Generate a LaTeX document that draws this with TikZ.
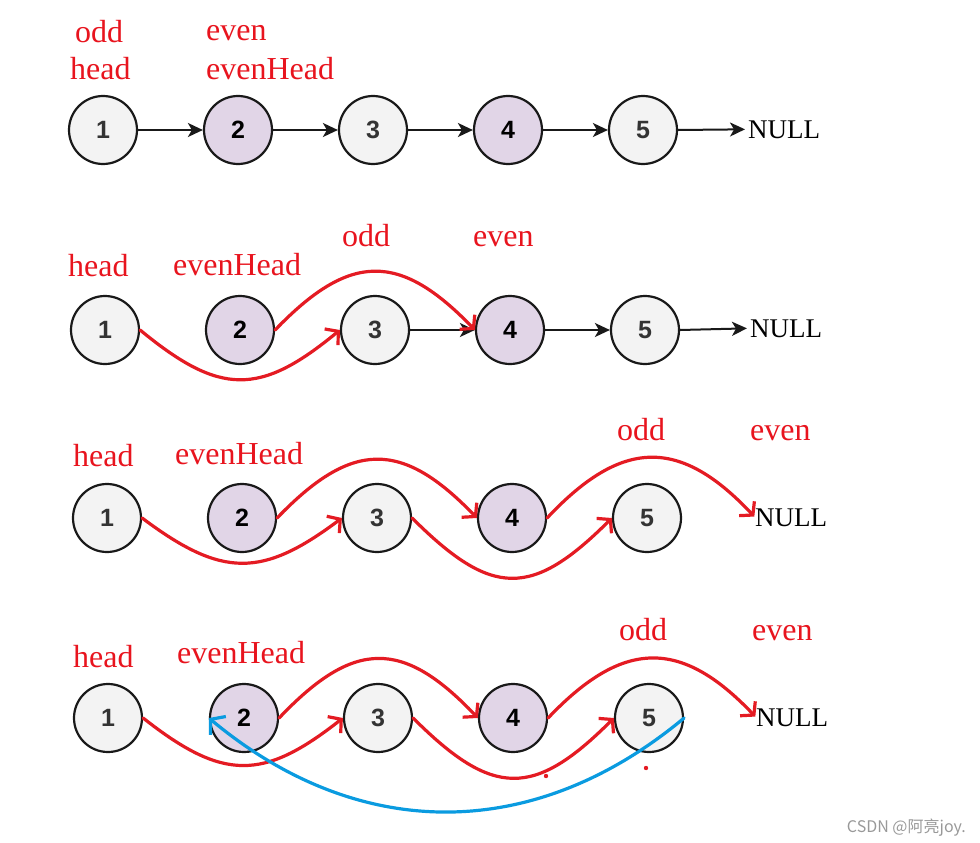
\documentclass[tikz,border=0pt]{standalone}
\usepackage{fontspec}
\setmainfont{Liberation Serif}
\newfontfamily\numfont{Liberation Sans}
\newfontfamily\cjk{Noto Sans CJK SC}
\usetikzlibrary{arrows.meta}
\definecolor{nodegray}{HTML}{F3F3F3}
\definecolor{nodepurple}{HTML}{E1D5E7}
\definecolor{lblred}{HTML}{E8141E}
\definecolor{curvered}{HTML}{E41B23}
\definecolor{curveblue}{HTML}{0A9BE0}
\begin{document}
\begin{tikzpicture}[x=1pt,y=-1pt,
 listnode/.style={circle,draw=black!90,line width=2.2pt,minimum size=68pt,inner sep=0pt,font=\numfont\bfseries\fontsize{25}{25}\selectfont},
 oddnode/.style={listnode,fill=nodegray,text=black!80},
 evennode/.style={listnode,fill=nodepurple,text=black},
 lbl/.style={anchor=base west,text=lblred,font=\fontsize{32}{32}\selectfont,inner sep=0pt},
 nulltxt/.style={anchor=base west,font=\fontsize{27}{27}\selectfont,inner sep=0pt},
 link/.style={draw=black!90,line width=2pt,-{Stealth[length=15pt,width=14pt,inset=4pt]}},
 redlink/.style={draw=curvered,line width=3.2pt,line cap=round,-{Straight Barb[length=9pt,width=21pt,line width=3.2pt]}},
 bluelink/.style={draw=curveblue,line width=3.2pt,line cap=round,-{Straight Barb[length=10pt,width=24pt,line width=3.2pt]}}
]
\useasboundingbox (0,0) rectangle (980,843);

% ---------- row 1 ----------
\node[oddnode]  (n11) at (103,130) {1};
\node[evennode] (n12) at (238,130) {2};
\node[oddnode]  (n13) at (373,130) {3};
\node[evennode] (n14) at (508,130) {4};
\node[oddnode]  (n15) at (643,130) {5};
\node[nulltxt]  (null1) at (748,138) {NULL};
\node[lbl] (o1) at (75,43) {odd};
\node[lbl] (h1) at (70,80) {head};
\node[lbl] (e1) at (206,41) {even};
\node[lbl] (eh1) at (206,80) {evenHead};
\draw[link] (n11) -- (n12);
\draw[link] (n12) -- (n13);
\draw[link] (n13) -- (n14);
\draw[link] (n14) -- (n15);
\draw[link,shorten >=3pt] (n15.east) -- (null1.west);

% ---------- row 2 ----------
\node[oddnode]  (n21) at (105,330) {1};
\node[evennode] (n22) at (240,330) {2};
\node[oddnode]  (n23) at (375,330) {3};
\node[evennode] (n24) at (510,330) {4};
\node[oddnode]  (n25) at (645,330) {5};
\node[nulltxt]  (null2) at (750,337) {NULL};
\node[lbl] (h2) at (68,276) {head};
\node[lbl] (eh2) at (173,275) {evenHead};
\node[lbl] (o2) at (342,246) {odd};
\node[lbl] (e2) at (473,246) {even};
\draw[link] (n23) -- (n24);
\draw[link] (n24) -- (n25);
\draw[link,shorten >=3pt] (n25.east) -- (null2.west);
\draw[redlink] (n21.east) .. controls +(80,66) and +(-80,66) .. (n23.west);
\draw[redlink] (n22.east) .. controls +(75,-78) and +(-75,-78) .. (n24.west);

% ---------- row 3 ----------
\node[oddnode]  (n31) at (107,518) {1};
\node[evennode] (n32) at (242,518) {2};
\node[oddnode]  (n33) at (377,518) {3};
\node[evennode] (n34) at (512,518) {4};
\node[oddnode]  (n35) at (647,518) {5};
\node[nulltxt]  (null3) at (755,526) {NULL};
\node[lbl] (h3) at (73,466) {head};
\node[lbl] (eh3) at (175,464) {evenHead};
\node[lbl] (o3) at (617,440) {odd};
\node[lbl] (e3) at (750,440) {even};
\draw[redlink] (n31.east) .. controls +(80,60) and +(-80,60) .. (n33.west);
\draw[redlink] (n32.east) .. controls +(75,-78) and +(-75,-78) .. (n34.west);
\draw[redlink] (n33.east) .. controls +(80,80) and +(-80,80) .. (n35.west);
\draw[redlink,shorten >=1pt] (n34.east) .. controls +(75,-80) and +(-75,-80) .. (null3.west);

% ---------- row 4 ----------
\node[oddnode]  (n41) at (108,718) {1};
\node[evennode] (n42) at (244,718) {2};
\node[oddnode]  (n43) at (378,718) {3};
\node[evennode] (n44) at (513,718) {4};
\node[oddnode]  (n45) at (649,718) {5};
\node[nulltxt]  (null4) at (756,726) {NULL};
\node[lbl] (h4) at (73,667) {head};
\node[lbl] (eh4) at (177,663) {evenHead};
\node[lbl] (o4) at (619,640) {odd};
\node[lbl] (e4) at (752,640) {even};
\draw[redlink] (n41.east) .. controls +(80,63) and +(-80,63) .. (n43.west);
\draw[redlink] (n42.east) .. controls +(75,-79) and +(-75,-79) .. (n44.west);
\draw[redlink] (n43.east) .. controls +(80,80) and +(-80,80) .. (n45.west);
\draw[redlink,shorten >=1pt] (n44.east) .. controls +(75,-79) and +(-75,-79) .. (null4.west);
\draw[bluelink] (n45.east) .. controls +(-150,125) and +(150,125) .. (n42.west);
\fill[curvered] (546,776) circle (2.2pt);
\fill[curvered] (646,768) circle (2.2pt);

% watermark
\node[anchor=base east,text=black!40,font=\cjk\fontsize{16}{16}\selectfont,inner sep=0pt] (wm) at (966,832) {CSDN @阿亮joy.};
\end{tikzpicture}
\end{document}
